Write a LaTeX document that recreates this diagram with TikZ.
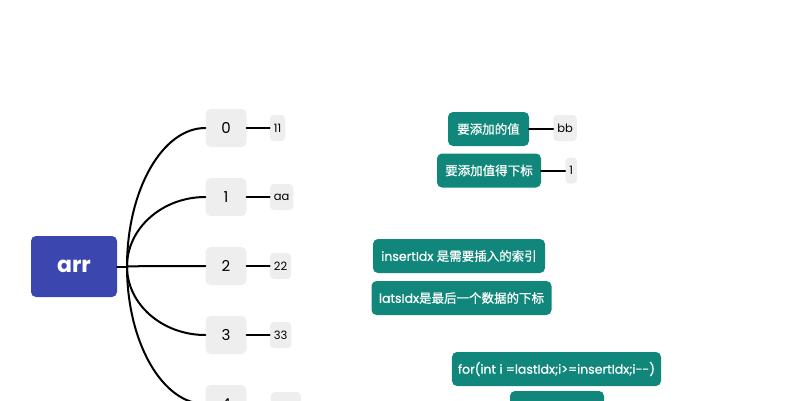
\documentclass[tikz,border=0pt]{standalone}
\usepackage{fontspec}
\setmainfont{Poppins}
\newfontfamily\cjk[FakeBold=0.8]{Noto Sans CJK SC}
\newfontfamily\latm[FakeBold=0.8]{Poppins}
\usetikzlibrary{calc}
\definecolor{arrblue}{HTML}{3B47AF}
\definecolor{notegreen}{HTML}{10877A}
\definecolor{cellgrey}{HTML}{EEEEEE}
\begin{document}
\begin{tikzpicture}[x=1pt, y=-1pt, line cap=round, line join=round,
  root/.style={fill=arrblue, text=white, rounded corners=5pt, minimum width=86pt, minimum height=61pt, inner sep=0pt, font=\fontsize{22}{24}\selectfont\bfseries},
  cell/.style={fill=cellgrey, rounded corners=5pt, minimum width=41pt, minimum height=38pt, inner sep=0pt, font=\fontsize{15}{18}\selectfont},
  val/.style={fill=cellgrey, rounded corners=4pt, minimum height=26pt, inner xsep=4pt, inner ysep=0pt, font=\fontsize{11.5}{13}\selectfont},
  note/.style={fill=notegreen, text=white, rounded corners=5pt, minimum height=34pt, inner xsep=6pt, inner ysep=0pt, font=\fontsize{12.5}{14}\selectfont\latm},
  link/.style={line width=2pt}]
\useasboundingbox (0,0) rectangle (787,400);
% the array and its cells
\node[root] (arr) at (74,266.5) {arr};
\coordinate (hub) at (127,266.5);
\draw[link] (arr.east) -- (hub);
\foreach \i/\v in {0/11,1/aa,2/22,3/33} {
  \node[cell] (e\i) at (226,128+69*\i) {\i};
  \node[val, anchor=west] (v\i) at ($(e\i.east)+(23,0)$) {\v};
  \draw[link] (e\i.east) -- (v\i.west);
}
\node[cell] (e4) at (226,404) {4};
\node[val, minimum width=30pt, anchor=west] (v4) at ($(e4.east)+(24,1)$) {};
\draw[link] (e4.east) -- ($(v4.west)+(0,-1)$);
\foreach \i in {0,...,4}
  \draw[link] (hub) .. controls ($(hub)!0.55!(hub|-e\i.west)$) and ($(e\i.west)!0.55!(e\i.west-|hub)$) .. (e\i.west);
% notes
\node[note, minimum width=81pt] (addval) at (488.5,129) {\cjk 要添加的值};
\node[val, anchor=west] (bb) at ($(addval.east)+(24,-1)$) {bb};
\draw[link] (addval.east) -- (bb.west|-addval.east);
\node[note, minimum width=104pt] (addidx) at (489,170.5) {\cjk 要添加值得下标};
\node[val, anchor=west] (one) at ($(addidx.east)+(24,0)$) {1};
\draw[link] (addidx.east) -- (one.west);
\node[note, minimum width=172pt] (ins) at (459,256) {insertIdx {\cjk 是需要插入的索引}};
\node[note, minimum width=180pt] (last) at (461.5,298) {latsIdx{\cjk 是最后一个数据的下标}};
\node[note, minimum width=205pt] (loop) at (556.5,369) {for(int i =lastIdx;i>=insertIdx;i{-}{-})};
\node[note, minimum width=94pt] (body) at (557,408) {};
\end{tikzpicture}
\end{document}
